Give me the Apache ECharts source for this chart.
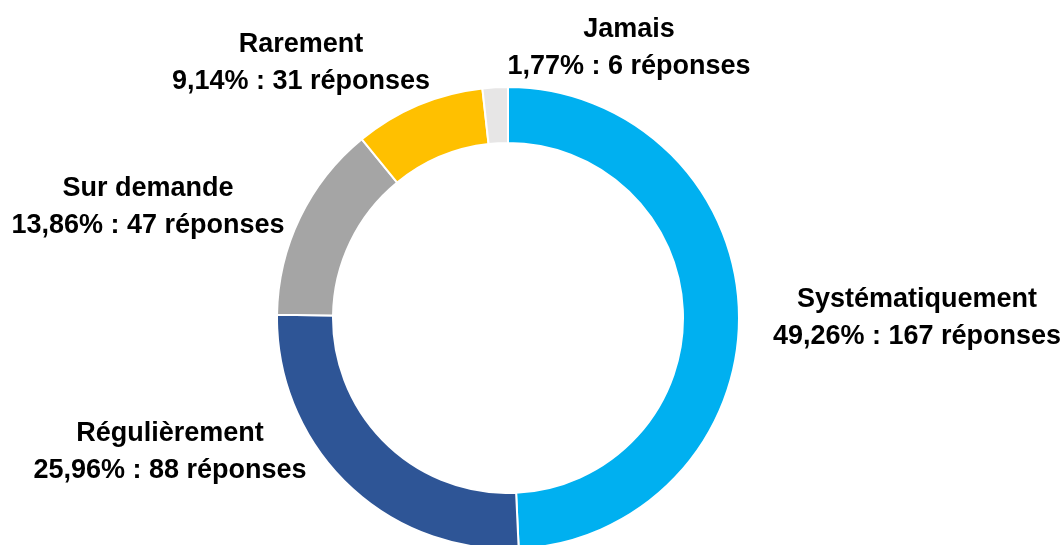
<!DOCTYPE html>
<html>
<head>
<meta charset="utf-8">
<script src="https://cdn.jsdelivr.net/npm/echarts@6/dist/echarts.min.js"></script>
<style>
  html, body { margin: 0; padding: 0; background: #fff; }
  #chart { width: 1064px; height: 545px; }
</style>
</head>
<body>
<div id="chart"></div>
<script>
// catégories et nombre de réponses
const categories = ["Systématiquement", "Régulièrement", "Sur demande", "Rarement", "Jamais"];
const reponses = [167, 88, 47, 31, 6];
const couleurs = ["#00B0F0", "#2E5596", "#A5A5A5", "#FFC000", "#E7E6E6"];
// centre de chaque étiquette (x, y)
const labelCenters = [[917, 318], [170, 452], [148, 207], [301, 63], [629, 48]];

const total = reponses.reduce((a, b) => a + b, 0);

const chart = echarts.init(document.getElementById("chart"));
chart.setOption({
  backgroundColor: "#fff",
  animation: false,
  series: [
    {
      type: "pie",
      center: [508, 318],
      radius: [175, 231],
      startAngle: 90,
      clockwise: true,
      avoidLabelOverlap: false,
      itemStyle: { borderColor: "#fff", borderWidth: 2 },
      label: {
        show: true,
        position: "outside",
        color: "#000",
        fontFamily: "Liberation Sans, Arial, sans-serif",
        fontWeight: "bold",
        fontSize: 27,
        lineHeight: 37,
        align: "center",
        formatter: (p) =>
          p.name + "\n" + ((p.value / total) * 100).toFixed(2).replace(".", ",") + "% : " + p.value + " réponses",
      },
      labelLine: { show: false },
      labelLayout: (params) => {
        const [x, y] = labelCenters[params.dataIndex];
        return { x, y, align: "center", verticalAlign: "middle" };
      },
      data: categories.map((name, i) => ({
        name,
        value: reponses[i],
        itemStyle: { color: couleurs[i] },
      })),
    },
  ],
});
</script>
</body>
</html>
